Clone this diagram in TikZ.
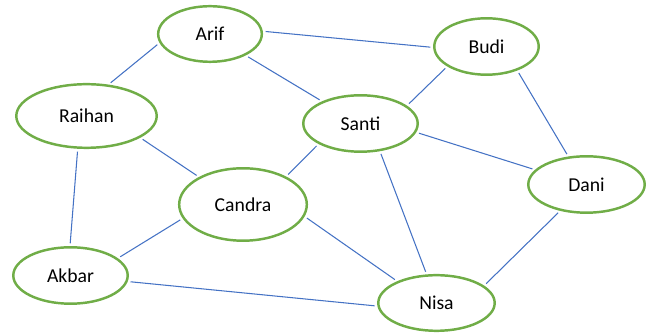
\documentclass[tikz,border=0pt]{standalone}
\usepackage{fontspec}
\setmainfont{Carlito}
\usetikzlibrary{shapes.geometric}
\definecolor{hijau}{RGB}{112,173,71}
\definecolor{biru}{RGB}{68,114,196}
\tikzset{
  orang/.style={ellipse, draw=hijau, line width=1.75pt, fill=white, inner sep=0pt,
    font=\fontsize{14}{16}\selectfont},
  garis/.style={draw=biru, line width=0.75pt, shorten <=2pt, shorten >=2pt}
}
\newcommand{\orang}[5]{\node[orang, minimum width=#4cm, minimum height=#5cm] (#1) at (#2) {#3};}

\begin{document}
\begin{tikzpicture}[x=0.025cm, y=-0.025cm]
    \useasboundingbox (0,0) rectangle (654,333);
    \orang{arif}{210,34}{Arif}{2.59}{1.39}
    \orang{budi}{486.5,46.5}{Budi}{2.61}{1.41}
    \orang{raihan}{86.5,116}{Raihan}{3.51}{1.59}
    \orang{santi}{360.5,123.5}{Santi}{2.86}{1.41}
    \orang{candra}{243,204.5}{Candra}{3.19}{1.81}
    \orang{dani}{586.5,184.5}{Dani}{2.91}{1.41}
    \orang{akbar}{70.5,275.5}{Akbar}{2.86}{1.41}
    \orang{nisa}{436.5,303}{Nisa}{2.91}{1.39}
    %hubungan
    \draw[garis] (arif.3) -- (budi.181);
    \draw[garis] (arif.190) -- (raihan.55);
    \draw[garis] (arif.-31) -- (santi.150);
    \draw[garis] (budi.207) -- (santi.21);
    \draw[garis] (budi.-38) -- (dani.123);
    \draw[garis] (santi.-9) -- (dani.164);
    \draw[garis] (santi.-55) -- (nisa.109);
    \draw[garis] (santi.206) -- (candra.33);
    \draw[garis] (raihan.-22) -- (candra.148);
    \draw[garis] (raihan.255) -- (akbar.91);
    \draw[garis] (candra.193) -- (akbar.20);
    \draw[garis] (candra.-11) -- (nisa.151);
    \draw[garis] (akbar.-6) -- (nisa.183);
    \draw[garis] (dani.225) -- (nisa.20);
\end{tikzpicture}
\end{document}
